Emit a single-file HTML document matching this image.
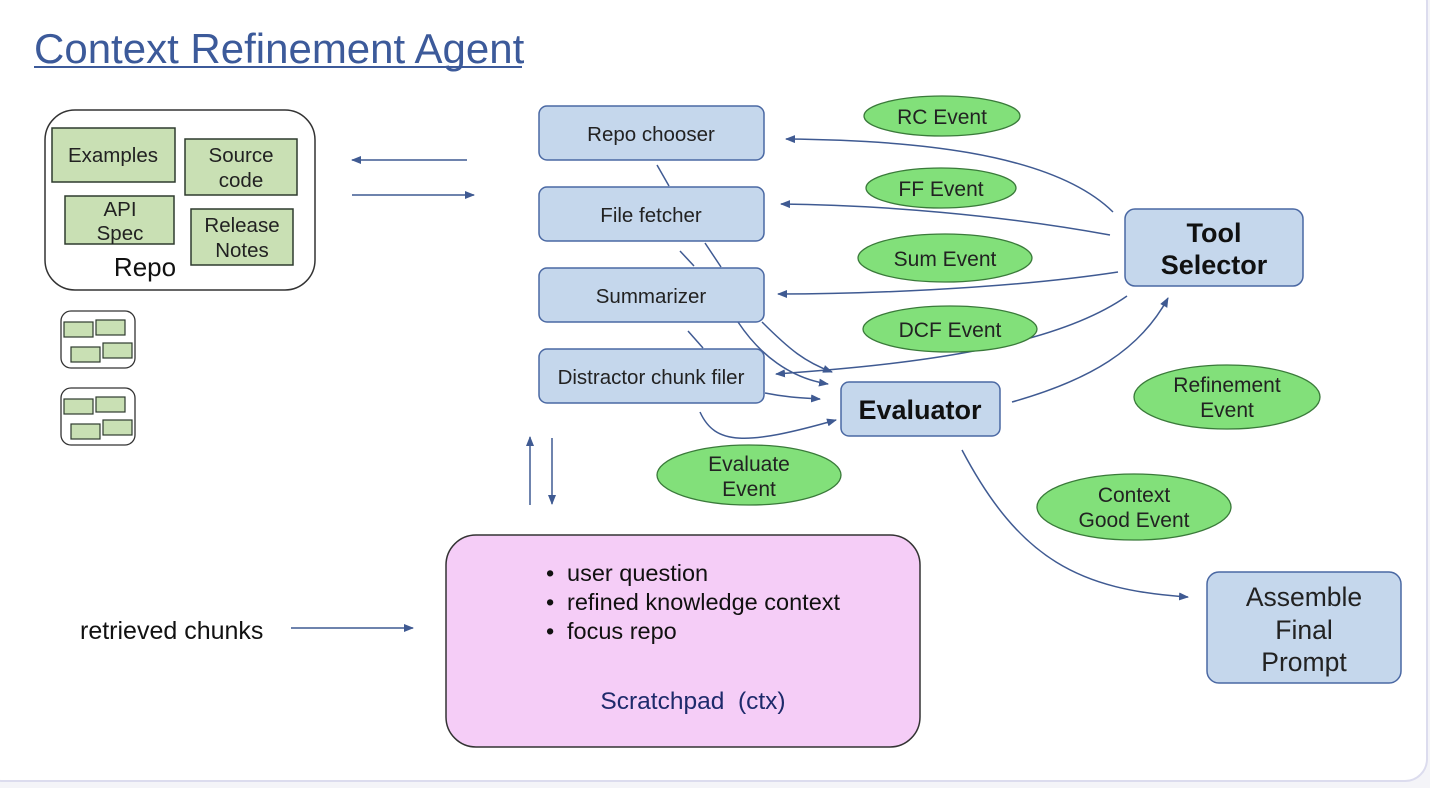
<!DOCTYPE html>
<html><head><meta charset="utf-8"><style>
html,body{margin:0;padding:0;background:#f4f4f8;}
svg{display:block;font-family:"Liberation Sans",Arial,sans-serif;}
</style></head><body>
<svg width="1430" height="788" viewBox="0 0 1430 788" xmlns="http://www.w3.org/2000/svg">
<defs>
<marker id="a" markerWidth="10" markerHeight="8" refX="9" refY="4" orient="auto" markerUnits="userSpaceOnUse">
<path d="M0,0 L10,4 L0,8 z" fill="#3f5a92"/></marker>
</defs>
<rect x="-20" y="-20" width="1447" height="801" rx="22" fill="#fff" stroke="#dcdcee" stroke-width="2"/>
<text x="34" y="63" font-size="42" fill="#3c5a9a">Context Refinement Agent</text>
<line x1="34" y1="67" x2="522" y2="67" stroke="#3c5a9a" stroke-width="2"/>

<!-- Repo -->
<rect x="45" y="110" width="270" height="180" rx="30" fill="#fff" stroke="#333" stroke-width="1.5"/>
<g fill="#c9e0b4" stroke="#2e3b2e" stroke-width="1.5">
<rect x="52" y="128" width="123" height="54"/>
<rect x="185" y="139" width="112" height="56"/>
<rect x="65" y="196" width="109" height="48"/>
<rect x="191" y="209" width="102" height="56"/>
</g>
<g font-size="20.5" fill="#222" text-anchor="middle">
<text x="113" y="162">Examples</text>
<text x="241" y="162">Source</text><text x="241" y="187">code</text>
<text x="120" y="216">API</text><text x="120" y="240">Spec</text>
<text x="242" y="232">Release</text><text x="242" y="257">Notes</text>
</g>
<text x="145" y="276" font-size="26" fill="#111" text-anchor="middle">Repo</text>

<g>
<rect x="61" y="311" width="74" height="57" rx="10" fill="#fff" stroke="#333" stroke-width="1.3"/>
<g fill="#c9e0b4" stroke="#2e3b2e" stroke-width="1.2">
<rect x="64" y="322" width="29" height="15"/><rect x="96" y="320" width="29" height="15"/>
<rect x="71" y="347" width="29" height="15"/><rect x="103" y="343" width="29" height="15"/></g>
<rect x="61" y="388" width="74" height="57" rx="10" fill="#fff" stroke="#333" stroke-width="1.3"/>
<g fill="#c9e0b4" stroke="#2e3b2e" stroke-width="1.2">
<rect x="64" y="399" width="29" height="15"/><rect x="96" y="397" width="29" height="15"/>
<rect x="71" y="424" width="29" height="15"/><rect x="103" y="420" width="29" height="15"/></g>
</g>

<g stroke="#3f5a92" stroke-width="1.5" fill="none">
<line x1="467" y1="160" x2="352" y2="160" marker-end="url(#a)"/>
<line x1="352" y1="195" x2="474" y2="195" marker-end="url(#a)"/>
<line x1="530" y1="505" x2="530" y2="437" marker-end="url(#a)"/>
<line x1="552" y1="438" x2="552" y2="504" marker-end="url(#a)"/>
<line x1="291" y1="628" x2="413" y2="628" marker-end="url(#a)"/>
<path d="M1113,212 C1050,150 900,140 786,139" marker-end="url(#a)"/>
<path d="M1110,235 C1000,215 880,205 781,204" marker-end="url(#a)"/>
<path d="M1118,272 C1000,290 850,294 778,294" marker-end="url(#a)"/>
<path d="M1127,296 C1050,350 900,365 776,374" marker-end="url(#a)"/>
<line x1="657" y1="165" x2="669" y2="186"/>
<line x1="680" y1="251" x2="694" y2="266"/>
<line x1="705" y1="243" x2="721" y2="267"/>
<line x1="688" y1="331" x2="703" y2="348"/>
<path d="M762,322 C790,350 805,362 832,372" marker-end="url(#a)"/>
<path d="M738,322 C760,355 790,378 828,384" marker-end="url(#a)"/>
<path d="M765,393 C790,398 805,398 820,399" marker-end="url(#a)"/>
<path d="M700,412 C715,445 745,446 836,420" marker-end="url(#a)"/>
<path d="M1012,402 C1090,380 1140,350 1168,298" marker-end="url(#a)"/>
<path d="M962,450 C1020,560 1080,590 1188,597" marker-end="url(#a)"/>
</g>

<g fill="#c5d7ec" stroke="#4a68a3" stroke-width="1.5">
<rect x="539" y="106" width="225" height="54" rx="8"/>
<rect x="539" y="187" width="225" height="54" rx="8"/>
<rect x="539" y="268" width="225" height="54" rx="8"/>
<rect x="539" y="349" width="225" height="54" rx="8"/>
<rect x="841" y="382" width="159" height="54" rx="8"/>
<rect x="1125" y="209" width="178" height="77" rx="10"/>
<rect x="1207" y="572" width="194" height="111" rx="12"/>
</g>
<g font-size="20.5" fill="#222" text-anchor="middle">
<text x="651" y="141">Repo chooser</text>
<text x="651" y="222">File fetcher</text>
<text x="651" y="303">Summarizer</text>
<text x="651" y="384">Distractor chunk filer</text>
</g>
<text x="920" y="419" font-size="27" font-weight="bold" fill="#111" text-anchor="middle">Evaluator</text>
<text x="1214" y="242" font-size="27" font-weight="bold" fill="#111" text-anchor="middle">Tool</text>
<text x="1214" y="274" font-size="27" font-weight="bold" fill="#111" text-anchor="middle">Selector</text>
<g font-size="26.5" fill="#222" text-anchor="middle">
<text x="1304" y="606">Assemble</text><text x="1304" y="639">Final</text><text x="1304" y="671">Prompt</text>
</g>

<g fill="#82e07a" stroke="#3a7a3a" stroke-width="1.3">
<ellipse cx="942" cy="116" rx="78" ry="20"/>
<ellipse cx="941" cy="188" rx="75" ry="20"/>
<ellipse cx="945" cy="258" rx="87" ry="24"/>
<ellipse cx="950" cy="329" rx="87" ry="23"/>
<ellipse cx="749" cy="475" rx="92" ry="30"/>
<ellipse cx="1227" cy="397" rx="93" ry="32"/>
<ellipse cx="1134" cy="507" rx="97" ry="33"/>
</g>
<g font-size="21" fill="#222" text-anchor="middle">
<text x="942" y="124">RC Event</text>
<text x="941" y="196">FF Event</text>
<text x="945" y="266">Sum Event</text>
<text x="950" y="337">DCF Event</text>
<text x="749" y="471">Evaluate</text><text x="749" y="496">Event</text>
<text x="1227" y="392">Refinement</text><text x="1227" y="417">Event</text>
<text x="1134" y="502">Context</text><text x="1134" y="527">Good Event</text>
</g>

<rect x="446" y="535" width="474" height="212" rx="30" fill="#f5cdf7" stroke="#333" stroke-width="1.5"/>
<g font-size="23.5" fill="#111">
<text x="546" y="581">•</text><text x="567" y="581">user question</text>
<text x="546" y="610">•</text><text x="567" y="610">refined knowledge context</text>
<text x="546" y="639">•</text><text x="567" y="639">focus repo</text>
</g>
<text x="693" y="709" font-size="24.5" fill="#1e2a6b" text-anchor="middle" xml:space="preserve">Scratchpad  (ctx)</text>
<text x="80" y="639" font-size="25" fill="#111">retrieved chunks</text>
</svg>
</body></html>
